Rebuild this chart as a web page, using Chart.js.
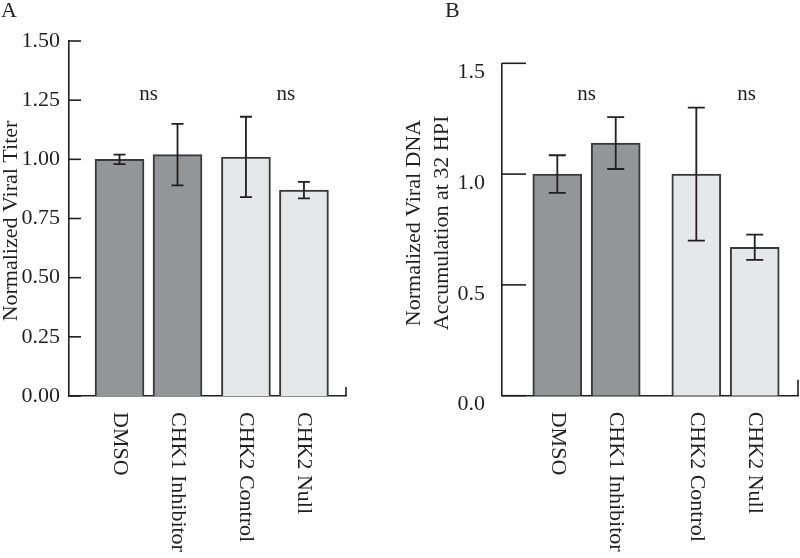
<!DOCTYPE html>
<html>
<head>
<meta charset="utf-8">
<script src="https://cdn.jsdelivr.net/npm/chart.js@4.4.1/dist/chart.umd.min.js"></script>
<style>
body { margin: 0; background: #fff; }
#wrap { display: flex; width: 800px; height: 558px; }
canvas { display: block; }
</style>
</head>
<body>
<div id="wrap">
  <canvas id="chartA" width="400" height="558"></canvas>
  <canvas id="chartB" width="400" height="558"></canvas>
</div>
<script>
// data
const categories = ['DMSO', 'CHK1 Inhibitor', 'CHK2 Control', 'CHK2 Null'];
const groups = [0, 0, 1, 1];
const sigLabels = ['ns', 'ns'];

const titerMeans = [1.00, 1.02, 1.01, 0.87];
const titerErrors = [0.02, 0.13, 0.17, 0.035];
const titerTicks = [0, 0.25, 0.5, 0.75, 1.0, 1.25, 1.5];

const dnaMeans = [1.00, 1.14, 1.00, 0.67];
const dnaErrors = [0.085, 0.117, 0.30, 0.057];
const dnaTicks = [0, 0.5, 1.0, 1.5];

// styles
const ink = '#231f20';
const serif = '"Liberation Serif", "Times New Roman", serif';
const groupFill = ['#939598', '#e6e7e8'];

// error bars, inside ticks, rotated labels, axis title, ns marks, panel letter
const figurePlugin = {
    id: 'figure',
    afterDatasetsDraw(chart, args, opts) {
        const ctx = chart.ctx;
        const y = chart.scales.y;
        const area = chart.chartArea;
        const meta = chart.getDatasetMeta(0);
        const ds = chart.data.datasets[0];
        ctx.save();
        ctx.strokeStyle = ink;
        ctx.lineWidth = 1.8;

        meta.data.forEach((bar, i) => {
            const v = ds.data[i].y, e = ds.errors[i];
            const top = y.getPixelForValue(v + e), bot = y.getPixelForValue(v - e);
            const c = opts.cap / 2;
            ctx.beginPath();
            ctx.moveTo(bar.x, top); ctx.lineTo(bar.x, bot);
            ctx.moveTo(bar.x - c, top); ctx.lineTo(bar.x + c, top);
            ctx.moveTo(bar.x - c, bot); ctx.lineTo(bar.x + c, bot);
            ctx.stroke();
        });

        ctx.lineWidth = 1.6;
        y.ticks.forEach(t => {
            const py = y.getPixelForValue(t.value);
            ctx.beginPath();
            ctx.moveTo(area.left, py); ctx.lineTo(area.left + opts.tick, py);
            ctx.stroke();
        });

        ctx.beginPath();
        ctx.moveTo(area.right, area.bottom); ctx.lineTo(area.right, area.bottom - opts.endTick);
        ctx.stroke();

        ctx.fillStyle = ink;
        ctx.font = '22px ' + serif;
        ctx.textAlign = 'left';
        ctx.textBaseline = 'middle';
        meta.data.forEach((bar, i) => {
            ctx.save();
            ctx.translate(bar.x, area.bottom + opts.labelGap);
            ctx.rotate(Math.PI / 2);
            ctx.fillText(categories[i], 0, 0);
            ctx.restore();
        });

        // y axis title, reading upward
        ctx.textAlign = 'center';
        opts.title.forEach((line, k) => {
            ctx.save();
            ctx.translate(opts.titleX + k * opts.titleStep, opts.titleY);
            ctx.rotate(-Math.PI / 2);
            ctx.fillText(line, 0, 0);
            ctx.restore();
        });

        ctx.font = '21px ' + serif;
        ctx.textBaseline = 'alphabetic';
        sigLabels.forEach((s, g) => {
            const xs = meta.data.filter((b, i) => groups[i] === g).map(b => b.x);
            const cx = (xs[0] + xs[xs.length - 1]) / 2 + opts.sigShift[g];
            ctx.fillText(s, cx, y.getPixelForValue(opts.sigY));
        });

        ctx.font = '22px ' + serif;
        ctx.textAlign = 'left';
        ctx.textBaseline = 'top';
        ctx.fillText(opts.letter, opts.letterX, 0);
        ctx.restore();
    }
};

function makeChart(id, means, errors, ticks, digits, L) {
    return new Chart(document.getElementById(id), {
        type: 'bar',
        data: {
            datasets: [{
                data: means.map((v, i) => ({ x: i + groups[i] * L.groupGap, y: v })),
                errors: errors,
                backgroundColor: groups.map(g => groupFill[g]),
                borderColor: '#3a3a3a',
                borderWidth: 2,
                borderSkipped: 'start',
                barThickness: 49
            }]
        },
        options: {
            responsive: false,
            animation: false,
            layout: { padding: { left: 0, right: L.right, top: L.top, bottom: 0 } },
            plugins: {
                legend: { display: false },
                tooltip: { enabled: false },
                figure: L.figure
            },
            scales: {
                x: {
                    type: 'linear',
                    offset: false,
                    min: L.xMin,
                    max: L.xMax,
                    grid: { display: false, drawTicks: false },
                    ticks: { display: false },
                    border: { display: true, color: ink, width: 1.6 },
                    afterFit: s => { s.height = L.bottom; }
                },
                y: {
                    min: 0,
                    max: 1.5,
                    afterBuildTicks: s => { s.ticks = ticks.map(v => ({ value: v })); },
                    grid: { display: false, drawTicks: false },
                    border: { display: true, color: ink, width: 1.6 },
                    ticks: {
                        callback: v => v.toFixed(digits),
                        font: { family: serif, size: 22 },
                        color: ink,
                        padding: L.labelPad,
                        labelOffset: L.labelOffset
                    },
                    afterFit: s => { s.width = L.axisWidth; }
                }
            }
        },
        plugins: [figurePlugin]
    });
}

makeChart('chartA', titerMeans, titerErrors, titerTicks, 2, {
    groupGap: 0.18, xMin: -0.871, xMax: 3.905,
    axisWidth: 69, right: 54, top: 41, bottom: 162,
    labelPad: 9, labelOffset: 0,
    figure: {
        cap: 12, tick: 12, endTick: 9, labelGap: 16, sigY: 1.25, sigShift: [0, 11],
        letter: 'A', letterX: 1,
        title: ['Normalized Viral Titer'], titleX: 11, titleY: 221, titleStep: 0
    }
});

makeChart('chartB', dnaMeans, dnaErrors, dnaTicks, 1, {
    groupGap: 0.38, xMin: -0.947, xMax: 4.121,
    axisWidth: 102, right: 2, top: 63.3, bottom: 162.3,
    labelPad: 17, labelOffset: 9,
    figure: {
        cap: 17, tick: 24, endTick: 16, labelGap: 16, sigY: 1.334, sigShift: [0, 21],
        letter: 'B', letterX: 45,
        title: ['Normalized Viral DNA', 'Accumulation at 32 HPI'], titleX: 14, titleY: 223, titleStep: 28.7
    }
});
</script>
</body>
</html>
